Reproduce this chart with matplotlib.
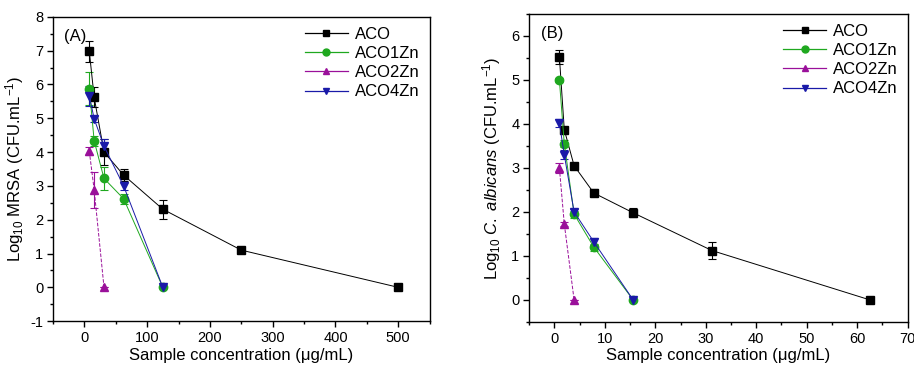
"""Log reduction of MRSA and C. albicans vs. sample concentration for ACO and Zn-doped ACO."""
import matplotlib
matplotlib.use("Agg")
import matplotlib.pyplot as plt
from matplotlib.lines import Line2D
from matplotlib.ticker import MultipleLocator

plt.rcParams["font.family"] = ["Liberation Sans", "DejaVu Sans"]
plt.rcParams["mathtext.fontset"] = "custom"
plt.rcParams["mathtext.rm"] = "Liberation Sans"
plt.rcParams["mathtext.it"] = "Liberation Sans:italic"
plt.rcParams["axes.unicode_minus"] = False

SERIES = ["ACO", "ACO1Zn", "ACO2Zn", "ACO4Zn"]
COLORS = {"ACO": "black", "ACO1Zn": "#1fa81f", "ACO2Zn": "#9a109a", "ACO4Zn": "#1a1aa8"}
MARKERS = {"ACO": "s", "ACO1Zn": "o", "ACO2Zn": "^", "ACO4Zn": "v"}
LSTYLE = {"ACO": "-", "ACO1Zn": "-", "ACO2Zn": "--", "ACO4Zn": "-"}

# (A) MRSA, ug/mL
conc_a = [7.8, 15.6, 31.25, 62.5, 125, 250, 500]
mrsa_aco = [6.98, 5.62, 4.0, 3.32, 2.31, 1.1, 0.0]
mrsa_aco_err = [0.32, 0.3, 0.38, 0.18, 0.28, 0.05, 0.0]
mrsa_1zn = [5.88, 4.33, 3.22, 2.62, 0.0]
mrsa_1zn_err = [0.5, 0.15, 0.33, 0.15, 0.0]
mrsa_2zn = [4.03, 2.88, 0.0]
mrsa_2zn_err = [0.12, 0.52, 0.0]
mrsa_4zn = [5.67, 4.98, 4.18, 3.0, 0.0]
mrsa_4zn_err = [0.3, 0.1, 0.2, 0.12, 0.0]

# (B) C. albicans, ug/mL
conc_b = [0.98, 1.95, 3.9, 7.8, 15.6, 31.25, 62.5]
ca_aco = [5.53, 3.87, 3.05, 2.43, 1.98, 1.12, 0.0]
ca_aco_err = [0.16, 0.05, 0.05, 0.08, 0.1, 0.2, 0.0]
ca_1zn = [5.0, 3.55, 1.95, 1.2, 0.0]
ca_1zn_err = [0.05, 0.08, 0.08, 0.08, 0.0]
ca_2zn = [3.0, 1.73, 0.0]
ca_2zn_err = [0.12, 0.05, 0.0]
ca_4zn = [4.02, 3.3, 2.0, 1.32, 0.0]
ca_4zn_err = [0.1, 0.1, 0.06, 0.08, 0.0]

panel_a = {"ACO": (mrsa_aco, mrsa_aco_err), "ACO1Zn": (mrsa_1zn, mrsa_1zn_err),
           "ACO2Zn": (mrsa_2zn, mrsa_2zn_err), "ACO4Zn": (mrsa_4zn, mrsa_4zn_err)}
panel_b = {"ACO": (ca_aco, ca_aco_err), "ACO1Zn": (ca_1zn, ca_1zn_err),
           "ACO2Zn": (ca_2zn, ca_2zn_err), "ACO4Zn": (ca_4zn, ca_4zn_err)}


def draw(ax, conc, data):
    handles = []
    for name in SERIES:
        y, e = data[name]
        x = conc[:len(y)]
        c = COLORS[name]
        ax.errorbar(x, y, yerr=e, color=c, ls=LSTYLE[name], lw=0.7,
                    marker=MARKERS[name], ms=6, mfc=c, mec=c,
                    elinewidth=0.8, capsize=3, capthick=0.8)
        # legend keys: solid line + marker, no error bar
        handles.append(Line2D([], [], color=c, lw=0.9, marker=MARKERS[name],
                              ms=5, label=name))
    ax.tick_params(direction="out", labelsize=10.5, width=1, length=4, pad=3)
    ax.tick_params(which="minor", direction="out", width=1, length=2.5)
    for s in ax.spines.values():
        s.set_linewidth(1)
    ax.set_xlabel("Sample concentration (\u03bcg/mL)", fontsize=12, labelpad=2)
    ax.legend(handles=handles, loc="upper right", frameon=False, fontsize=12,
              handlelength=2.6, labelspacing=0.25, borderaxespad=0.2,
              handletextpad=0.4)


fig = plt.figure(figsize=(9.14, 3.67), dpi=100)
ax1 = fig.add_axes([0.058, 0.125, 0.412, 0.829])
ax2 = fig.add_axes([0.579, 0.123, 0.414, 0.839])

draw(ax1, conc_a, panel_a)
ax1.set_xlim(-50, 550)
ax1.set_ylim(-1, 8)
ax1.xaxis.set_major_locator(MultipleLocator(100))
ax1.xaxis.set_minor_locator(MultipleLocator(50))
ax1.yaxis.set_major_locator(MultipleLocator(1))
ax1.yaxis.set_minor_locator(MultipleLocator(0.5))
ax1.set_ylabel("Log$_{10}$ MRSA (CFU.mL$^{-1}$)", fontsize=12, labelpad=3)
ax1.text(0.03, 0.96, "(A)", transform=ax1.transAxes, fontsize=12, va="top")

draw(ax2, conc_b, panel_b)
ax2.set_xlim(-5, 70)
ax2.set_ylim(-0.5, 6.5)
ax2.xaxis.set_major_locator(MultipleLocator(10))
ax2.xaxis.set_minor_locator(MultipleLocator(5))
ax2.yaxis.set_major_locator(MultipleLocator(1))
ax2.yaxis.set_minor_locator(MultipleLocator(0.5))
ax2.set_ylabel("Log$_{10}$ $\\mathit{C.\\ albicans}$ (CFU.mL$^{-1}$)", fontsize=12, labelpad=6)
ax2.text(0.03, 0.96, "(B)", transform=ax2.transAxes, fontsize=12, va="top")

fig.savefig("out.png", dpi=100)
